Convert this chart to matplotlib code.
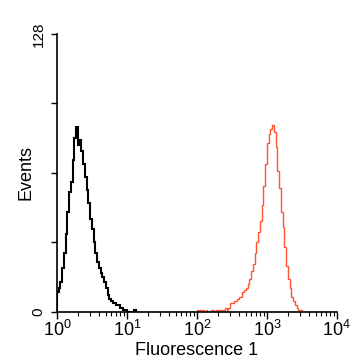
import numpy as np
import matplotlib
matplotlib.use("Agg")
import matplotlib.pyplot as plt
from matplotlib.ticker import LogLocator, FixedLocator, NullFormatter

plt.rcParams['font.family'] = ['Liberation Sans', 'DejaVu Sans']
plt.rcParams['mathtext.fontset'] = 'custom'
plt.rcParams['mathtext.rm'] = 'Liberation Sans'

# histogram channels, 0.025 decade wide
bin_w = 0.025
black_start = 0.0
black_counts = [9, 11, 14, 20, 27, 36, 46, 55, 60, 70, 80, 85,
                77, 79, 74, 68, 62, 56, 50, 43, 38, 32, 27, 23,
                20, 18, 16, 14, 11, 8, 6, 5, 4, 4, 3, 3,
                2, 2, 1, 1, 0, 0, 0, 0, 1, 0]
red_start = 2.0
red_counts = [1, 0, 1, 1, 0, 1, 0, 0, 1, 1, 0, 1, 1, 0,
              1, 1, 2, 1, 2, 4, 4, 5, 5, 6, 7, 7, 9, 10,
              11, 13, 15, 19, 22, 27, 32, 37, 42, 49, 58, 68,
              78, 82, 84, 86, 83, 76, 65, 57, 46, 39, 30, 21,
              15, 11, 7, 5, 3, 2, 1, 1, 0]

y_ticks = [0, 32, 64, 96, 128]
y_labels = ['0', '', '', '', '128']
x_ticks = [1, 10, 100, 1000, 10000]
x_labels = ['$\\mathrm{10^{0}}$', '$\\mathrm{10^{1}}$', '$\\mathrm{10^{2}}$',
            '$\\mathrm{10^{3}}$', '$\\mathrm{10^{4}}$']

fig = plt.figure(figsize=(3.58, 3.61), dpi=100)
ax = fig.add_axes([0.159, 0.136, 0.782, 0.770])

edges_k = 10 ** (black_start + bin_w * np.arange(len(black_counts) + 1))
edges_r = 10 ** (red_start + bin_w * np.arange(len(red_counts) + 1))
ax.stairs(black_counts, edges_k, color='black', linewidth=1.5)
ax.stairs(red_counts, edges_r, color='#ff5533', linewidth=1.0)

ax.set_xscale('log')
ax.set_xlim(1, 10000)
ax.set_ylim(0, 128)

ax.spines['top'].set_visible(False)
ax.spines['right'].set_visible(False)
ax.spines['left'].set_linewidth(1.2)
ax.spines['bottom'].set_linewidth(1.2)

ax.xaxis.set_major_locator(FixedLocator(x_ticks))
ax.set_xticklabels(x_labels, fontsize=13)
ax.xaxis.set_minor_locator(LogLocator(base=10, subs=np.arange(2, 10)))
ax.xaxis.set_minor_formatter(NullFormatter())
ax.tick_params(axis='x', which='major', length=5, width=1, pad=1)
ax.tick_params(axis='x', which='minor', length=3, width=0.8)

ax.set_yticks(y_ticks)
ax.set_yticklabels(y_labels, fontsize=11, rotation=90, va='center')
ax.tick_params(axis='y', length=4, width=1, pad=4)

ax.set_xlabel('Fluorescence 1', fontsize=13, labelpad=1)
ax.set_ylabel('Events', fontsize=13, labelpad=-2)

fig.savefig('out.png', dpi=100)
